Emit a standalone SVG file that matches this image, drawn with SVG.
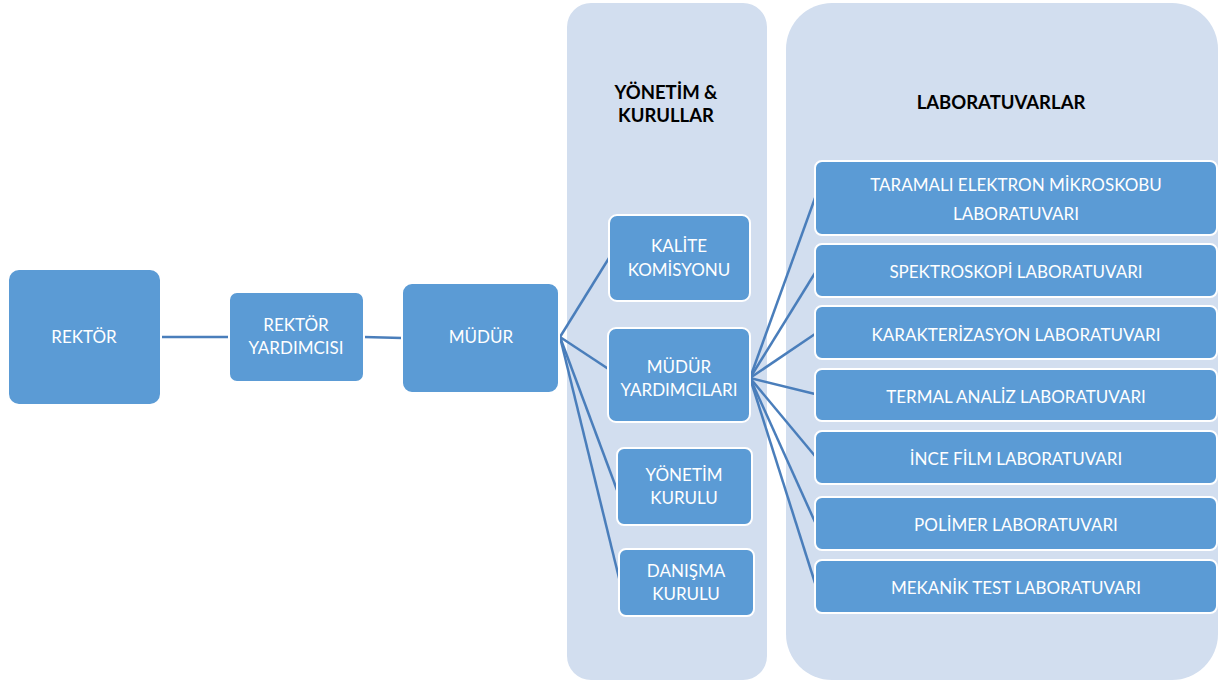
<svg xmlns="http://www.w3.org/2000/svg" width="1226" height="680" viewBox="0 0 1226 680">
<style>
.panel{fill:#D2DEEF;}
.node{fill:#5B9BD5;stroke:#FFFFFF;stroke-width:2;}
.lbl{font-family:Lato,"Liberation Sans",sans-serif;font-size:17px;fill:#FFFFFF;text-anchor:middle;}
.hdr{font-family:Lato,"Liberation Sans",sans-serif;font-size:18.5px;font-weight:bold;fill:#000000;text-anchor:middle;}
.con{stroke:#4A7EBB;stroke-width:2.5;fill:none;}
</style>
<rect width="1226" height="680" fill="#FFFFFF"/>
<g id="panel-yonetim">
<rect class="panel" x="567" y="3" width="200" height="677" rx="24"/>
<text class="hdr" x="666" y="99">YÖNETİM &amp;</text>
<text class="hdr" x="666" y="122">KURULLAR</text>
</g>
<g id="panel-lab">
<rect class="panel" x="786" y="3" width="432" height="677" rx="46"/>
<text class="hdr" x="1001" y="109">LABORATUVARLAR</text>
</g>
<g id="connectors">
<line class="con" x1="161" y1="337" x2="229" y2="337" stroke-width="3"/>
<line class="con" x1="364" y1="337" x2="402" y2="338" stroke-width="3"/>
<line class="con" x1="560" y1="337" x2="609" y2="258"/>
<line class="con" x1="560" y1="337" x2="610" y2="370"/>
<line class="con" x1="560" y1="337" x2="617" y2="490"/>
<line class="con" x1="560" y1="337" x2="620" y2="582"/>
<line class="con" x1="750" y1="378" x2="815" y2="198"/>
<line class="con" x1="750" y1="378" x2="815" y2="273"/>
<line class="con" x1="750" y1="378" x2="815" y2="334"/>
<line class="con" x1="750" y1="378" x2="815" y2="394"/>
<line class="con" x1="750" y1="378" x2="815" y2="456"/>
<line class="con" x1="750" y1="378" x2="815" y2="522"/>
<line class="con" x1="750" y1="378" x2="815" y2="583"/>
</g>
<g id="rektor"><rect class="node" x="8" y="269" width="153" height="136" rx="11"/><text class="lbl" x="84" y="343">REKTÖR</text></g>
<g id="rektor-yardimcisi"><rect class="node" x="229" y="292" width="135" height="90" rx="8"/><text class="lbl" x="296" y="331">REKTÖR</text><text class="lbl" x="296" y="354">YARDIMCISI</text></g>
<g id="mudur"><rect class="node" x="402" y="283" width="157" height="110" rx="10"/><text class="lbl" x="481" y="343">MÜDÜR</text></g>
<g id="kalite"><rect class="node" x="609" y="215" width="141" height="86" rx="8"/><text class="lbl" x="679" y="252">KALİTE</text><text class="lbl" x="679" y="276">KOMİSYONU</text></g>
<g id="mudur-yardimcilari"><rect class="node" x="608" y="328" width="142" height="94" rx="8"/><text class="lbl" x="679" y="373">MÜDÜR</text><text class="lbl" x="679" y="396">YARDIMCILARI</text></g>
<g id="yonetim-kurulu"><rect class="node" x="617" y="448" width="135" height="77" rx="7"/><text class="lbl" x="684" y="481">YÖNETİM</text><text class="lbl" x="684" y="504">KURULU</text></g>
<g id="danisma-kurulu"><rect class="node" x="619" y="549" width="135" height="67" rx="7"/><text class="lbl" x="686" y="577">DANIŞMA</text><text class="lbl" x="686" y="600">KURULU</text></g>
<g id="lab-sem"><rect class="node" x="815" y="161" width="402" height="74" rx="7"/><text class="lbl" x="1016" y="191">TARAMALI ELEKTRON MİKROSKOBU</text><text class="lbl" x="1016" y="220">LABORATUVARI</text></g>
<g id="lab-spektro"><rect class="node" x="815" y="244" width="402" height="53" rx="7"/><text class="lbl" x="1016" y="278">SPEKTROSKOPİ LABORATUVARI</text></g>
<g id="lab-karakter"><rect class="node" x="815" y="306" width="402" height="53" rx="7"/><text class="lbl" x="1016" y="341">KARAKTERİZASYON LABORATUVARI</text></g>
<g id="lab-termal"><rect class="node" x="815" y="369" width="402" height="52" rx="7"/><text class="lbl" x="1016" y="403">TERMAL ANALİZ LABORATUVARI</text></g>
<g id="lab-ince"><rect class="node" x="815" y="431" width="402" height="53" rx="7"/><text class="lbl" x="1016" y="465">İNCE FİLM LABORATUVARI</text></g>
<g id="lab-polimer"><rect class="node" x="815" y="497" width="402" height="53" rx="7"/><text class="lbl" x="1016" y="531">POLİMER LABORATUVARI</text></g>
<g id="lab-mekanik"><rect class="node" x="815" y="560" width="402" height="53" rx="7"/><text class="lbl" x="1016" y="594">MEKANİK TEST LABORATUVARI</text></g>
</svg>
